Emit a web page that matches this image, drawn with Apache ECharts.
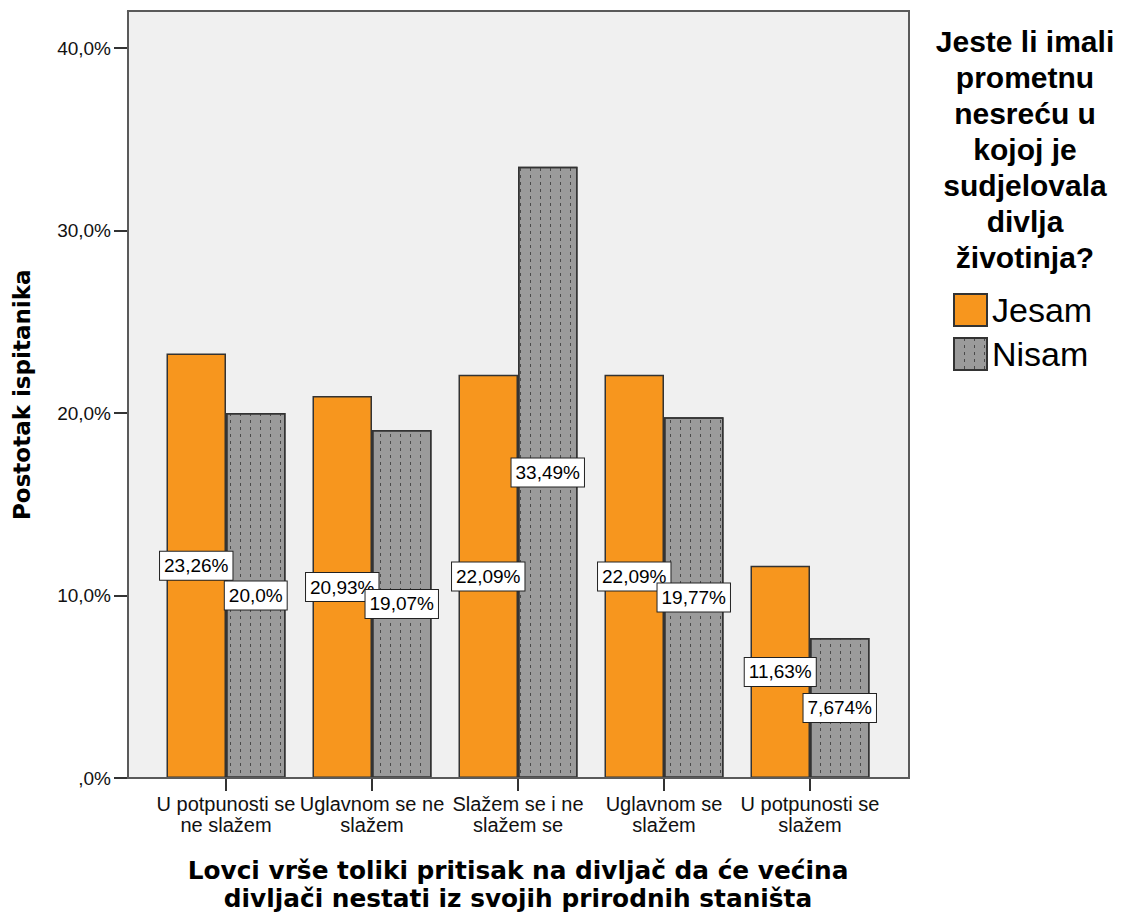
<!DOCTYPE html>
<html><head><meta charset="utf-8">
<script src="https://cdn.jsdelivr.net/npm/echarts@6/dist/echarts.min.js"></script>
<style>html,body{margin:0;padding:0;background:#fff}#c{width:1133px;height:914px}</style>
</head><body><div id="c"></div>
<script>
const categories = ['U potpunosti se\nne slažem', 'Uglavnom se ne\nslažem', 'Slažem se i ne\nslažem se', 'Uglavnom se\nslažem', 'U potpunosti se\nslažem'];
const seriesNames = ['Jesam', 'Nisam'];
const jesamValues = [23.26, 20.93, 22.09, 22.09, 11.63];
const nisamValues = [20.0, 19.07, 33.49, 19.77, 7.674];
const jesamLabels = ['23,26%', '20,93%', '22,09%', '22,09%', '11,63%'];
const nisamLabels = ['20,0%', '19,07%', '33,49%', '19,77%', '7,674%'];
const yTickValues = [0, 10, 20, 30, 40];
const yTickLabels = [',0%', '10,0%', '20,0%', '30,0%', '40,0%'];
const yAxisTitle = 'Postotak ispitanika';
const xAxisTitle = 'Lovci vrše toliki pritisak na divljač da će većina\ndivljači nestati iz svojih prirodnih staništa';
const legendTitle = 'Jeste li imali\nprometnu\nnesreću u\nkojoj je\nsudjelovala\ndivlja\nživotinja?';

const SANS = '"Liberation Sans", Arial, sans-serif';
const chart = echarts.init(document.getElementById('c'), null, {renderer: 'svg'});

const labelStyle = {
  show: true, position: 'inside', color: '#000', fontFamily: SANS, fontSize: 19,
  backgroundColor: '#fff', borderColor: '#222', borderWidth: 1, padding: [5, 4, 4, 4]
};

chart.setOption({
  animation: false,
  graphic: [
    {type: 'rect', z: -10, shape: {x: 128, y: 11, width: 781, height: 767}, style: {fill: '#f0f0f0', stroke: null}},
    {type: 'rect', z: 100, shape: {x: 128, y: 11, width: 781, height: 767}, style: {fill: null, stroke: '#5a5a5a', lineWidth: 2}},
    {type: 'text', x: 1025, y: 23, style: {text: legendTitle, align: 'center', verticalAlign: 'top',
      fontFamily: SANS, fontWeight: 'bold', fontSize: 30, lineHeight: 36, fill: '#000'}}
  ],
  grid: {left: 153, right: 250, top: 11.5, height: 766.5, containLabel: false, outerBoundsMode: 'none'},
  legend: {
    orient: 'vertical', left: 953, top: 293, padding: 0, itemWidth: 33, itemHeight: 32, itemGap: 10,
    icon: 'rect', data: seriesNames,
    textStyle: {fontFamily: SANS, fontSize: 34, lineHeight: 34, color: '#000', padding: [0, 0, 0, 0]}
  },
  xAxis: {
    type: 'category', data: categories,
    axisLine: {lineStyle: {color: '#333', width: 2}},
    axisTick: {show: true, alignWithLabel: true, length: 13, lineStyle: {color: '#333', width: 2}},
    axisLabel: {interval: 0, margin: 15, fontFamily: SANS, fontSize: 20, lineHeight: 21, color: '#111'},
    name: xAxisTitle, nameLocation: 'middle', nameGap: 78,
    nameTextStyle: {fontFamily: '"DejaVu Sans", sans-serif', fontWeight: 'bold', fontSize: 24.8, lineHeight: 28.5, color: '#000'}
  },
  yAxis: {
    type: 'value', min: 0, max: 42, interval: 10, offset: 25,
    axisLine: {show: true, lineStyle: {color: '#555', width: 2}},
    axisTick: {show: true, length: 14, customValues: yTickValues, lineStyle: {color: '#333', width: 2}},
    splitLine: {show: false},
    axisLabel: {customValues: yTickValues, margin: 17, fontFamily: SANS, fontSize: 19, color: '#111',
      formatter: v => yTickLabels[yTickValues.indexOf(v)]},
    name: yAxisTitle, nameLocation: 'middle', nameGap: 95, nameRotate: 90,
    nameTextStyle: {fontFamily: '"DejaVu Sans", sans-serif', fontWeight: 'bold', fontSize: 23, color: '#000'}
  },
  series: [
    {
      name: seriesNames[0], type: 'bar', data: jesamValues, barWidth: 59.5, barGap: '0%',
      itemStyle: {color: '#F7961E', borderColor: '#333', borderWidth: 1.5},
      label: Object.assign({}, labelStyle, {formatter: p => jesamLabels[p.dataIndex]})
    },
    {
      name: seriesNames[1], type: 'bar', data: nisamValues, barWidth: 59.5, barGap: '0%',
      itemStyle: {color: '#9b9b9b', borderColor: '#333', borderWidth: 1.5,
        decal: {symbol: 'rect', symbolSize: 1, dashArrayX: [1, 9], dashArrayY: [3, 4], color: '#4a4a4a', rotation: 0}},
      label: Object.assign({}, labelStyle, {formatter: p => nisamLabels[p.dataIndex]})
    }
  ]
});
</script>
</body></html>
